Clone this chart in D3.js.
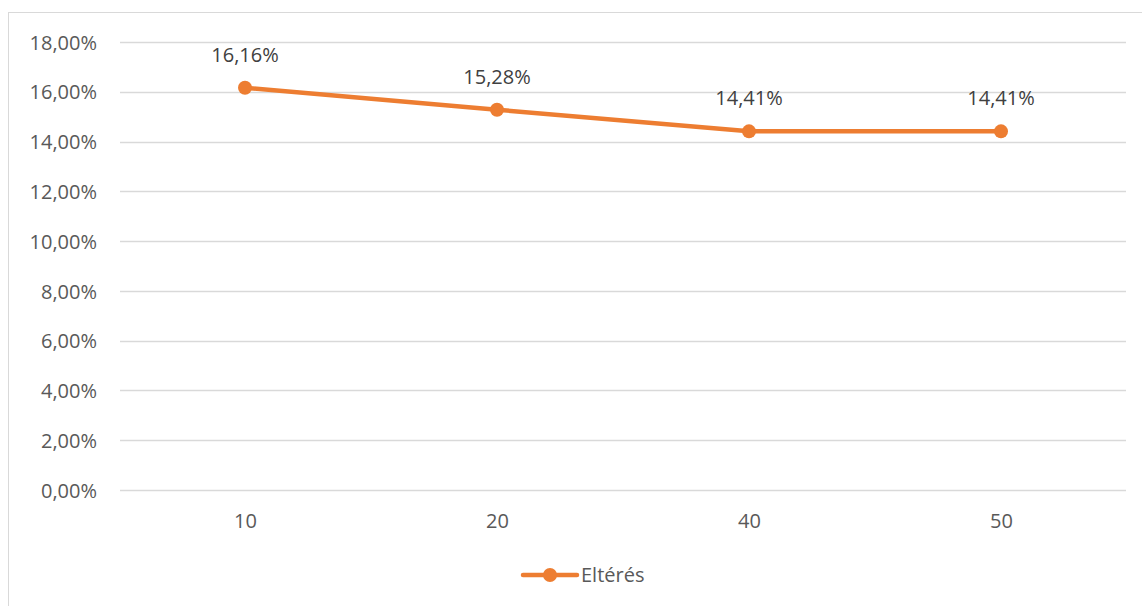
<!DOCTYPE html>
<html><head><meta charset="utf-8">
<script src="https://cdn.jsdelivr.net/npm/d3@7"></script>
<style>body{margin:0;background:#fff;}svg{display:block;}</style>
</head><body>
<svg id="c" width="1142" height="606"></svg>
<script>
const categories = ["10","20","40","50"];
const values = [0.1616, 0.1528, 0.1441, 0.1441];
const yTicks = [0,0.02,0.04,0.06,0.08,0.10,0.12,0.14,0.16,0.18];
const seriesName = "Eltérés";

const svg = d3.select("#c");
const font = "'Open Sans', sans-serif";
const fs = 20;
const color = "#ED7D31";
const textColor = "#595959";

// outer frame
svg.append("rect").attr("x",8.5).attr("y",12.5).attr("width",1160).attr("height",620)
  .attr("fill","none").attr("stroke","#d9d9d9").attr("stroke-width",1);

const x = d3.scalePoint().domain(categories).range([245,1001]);
const y = d3.scaleLinear().domain([0,0.18]).range([490,42]);
const fmt = v => (v*100).toFixed(2).replace(".",",") + "%";

// gridlines
svg.append("g").selectAll("line").data(yTicks).join("line")
  .attr("x1",120).attr("x2",1126)
  .attr("y1",d=>Math.round(y(d))+0.5).attr("y2",d=>Math.round(y(d))+0.5)
  .attr("stroke","#d9d9d9").attr("stroke-width",1.3);

// y labels
const yAxis = d3.axisLeft(y).tickValues(yTicks).tickFormat(fmt).tickSize(0).tickPadding(0);
const gy = svg.append("g").attr("transform","translate(97,0)").call(yAxis);
gy.select(".domain").remove();
gy.selectAll("text").attr("font-family",font).attr("font-size",fs).attr("fill",textColor).attr("dy","0.36em");

// x labels
const xAxis = d3.axisBottom(x).tickSize(0).tickPadding(0);
const gx = svg.append("g").attr("transform","translate(0,528)").call(xAxis);
gx.select(".domain").remove();
gx.selectAll("text").attr("font-family",font).attr("font-size",fs).attr("fill",textColor).attr("dy",0).attr("y",0);

// line
const line = d3.line().x((d,i)=>x(categories[i])).y(d=>y(d));
svg.append("path").datum(values).attr("d",line).attr("fill","none")
  .attr("stroke",color).attr("stroke-width",4.5).attr("stroke-linejoin","round").attr("stroke-linecap","round");

svg.append("g").selectAll("circle").data(values).join("circle")
  .attr("cx",(d,i)=>x(categories[i])).attr("cy",d=>y(d)).attr("r",7).attr("fill",color);

// data labels
svg.append("g").selectAll("text").data(values).join("text")
  .attr("x",(d,i)=>x(categories[i])).attr("y",d=>y(d)-26)
  .attr("text-anchor","middle").attr("font-family",font).attr("font-size",fs).attr("fill","#404040")
  .text(fmt);

// legend
const lg = svg.append("g");
lg.append("line").attr("x1",523).attr("x2",577).attr("y1",575).attr("y2",575)
  .attr("stroke",color).attr("stroke-width",4.5).attr("stroke-linecap","round");
lg.append("circle").attr("cx",550).attr("cy",575).attr("r",7).attr("fill",color);
lg.append("text").attr("x",581).attr("y",582).attr("font-family",font)
  .attr("font-size",fs).attr("fill",textColor).text(seriesName);
</script>
</body></html>
